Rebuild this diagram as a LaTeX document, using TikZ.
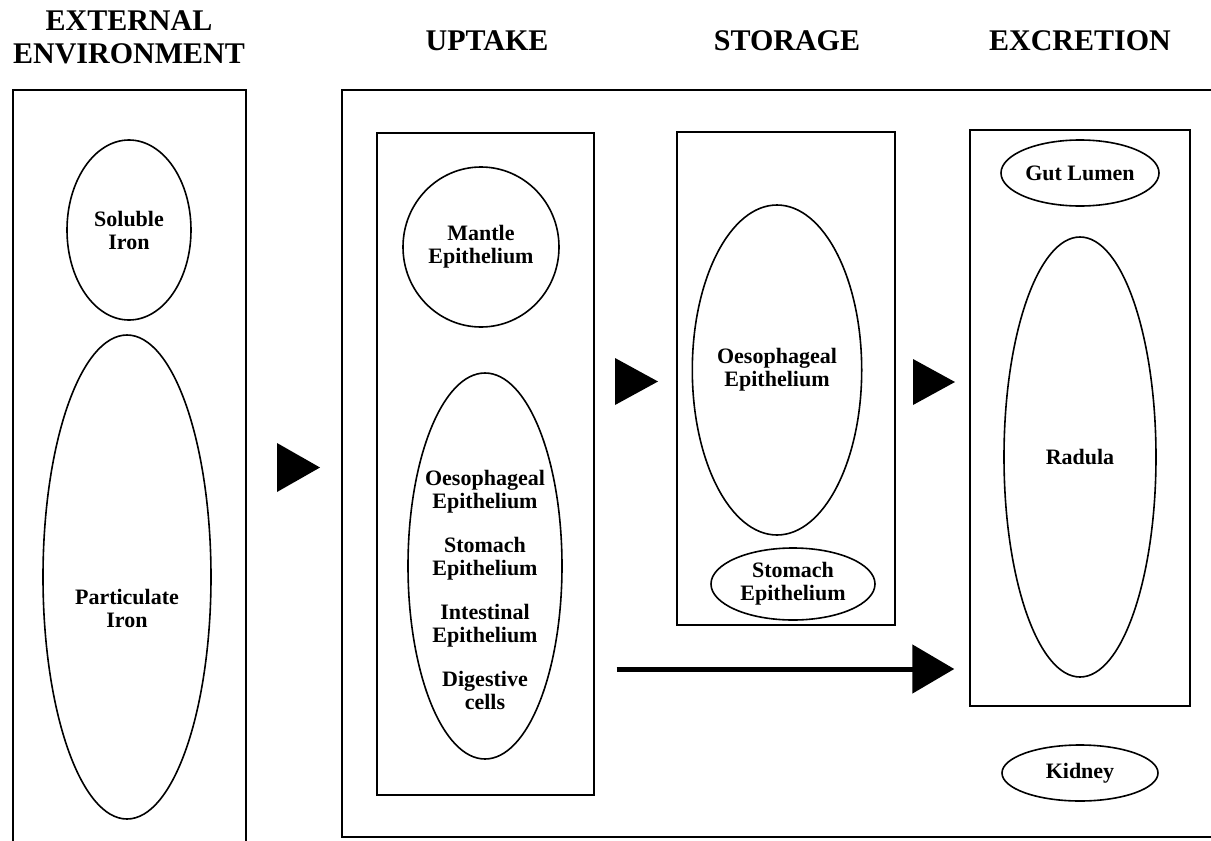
\documentclass[tikz,border=0pt]{standalone}
\usepackage{fontspec}
\setmainfont{Liberation Serif}
\usetikzlibrary{shapes.geometric,arrows.meta}
\begin{document}
\begin{tikzpicture}[x=1pt,y=-1pt,
  frame/.style={draw, rectangle, line width=1.4pt, inner sep=0pt},
  blob/.style={draw, ellipse, line width=1.6pt, inner sep=0pt, align=center,
    font=\bfseries\fontsize{22}{23}\selectfont},
  label/.style={align=center, inner sep=0pt, font=\bfseries\fontsize{22}{23}\selectfont},
  head/.style={anchor=base, inner sep=0pt, font=\bfseries\fontsize{30}{33}\selectfont},
  marker/.style={fill=black},
  flow/.style={line width=5pt, -{Triangle[length=42pt, width=48pt]}}]
\useasboundingbox (0,0) rectangle (1211,841);

% column headings
\node[head] (hext1) at (129,30) {EXTERNAL};
\node[head] (hext2) at (129,63) {ENVIRONMENT};
\node[head] (hup) at (487,50) {UPTAKE};
\node[head] (hsto) at (787,50) {STORAGE};
\node[head] (hexc) at (1080,50) {EXCRETION};

% outer frames
\draw[line width=1.4pt] (13,842) -- (13,90) -- (246,90) -- (246,842);
\draw[line width=1.4pt] (1212,90) -- (342,90) -- (342,837) -- (1212,837);

% compartment boxes
\node[frame, minimum width=217pt, minimum height=662pt] (upbox) at (485.5,464) {};
\node[frame, minimum width=218pt, minimum height=493pt] (stobox) at (786,378.5) {};
\node[frame, minimum width=220pt, minimum height=576pt] (excbox) at (1080,418) {};

% external environment
\node[blob, minimum width=124pt, minimum height=180pt] (soluble) at (129,230) {Soluble\\Iron};
\node[blob, minimum width=168pt, minimum height=484pt] (partic) at (127,577) {};
\node[label] (particlabel) at (127,608) {Particulate\\Iron};

% uptake
\node[blob, minimum width=156pt, minimum height=160pt] (mantle) at (481,247) {Mantle\\Epithelium};
\node[blob, minimum width=154pt, minimum height=386pt] (gut) at (485,566) {};
\node[label] (gutlabel) at (485,590) {Oesophageal\\Epithelium\\[21pt]Stomach\\Epithelium\\[21pt]Intestinal\\Epithelium\\[21pt]Digestive\\cells};

% storage
\node[blob, minimum width=136pt, minimum height=330pt] (oeso) at (777,370) {Oesophageal\\Epithelium};
\node[blob, minimum width=164pt, minimum height=72pt] (stomach) at (793,584) {Stomach\\Epithelium};

% excretion
\node[blob, minimum width=158pt, minimum height=66pt] (lumen) at (1080,173) {Gut Lumen};
\node[blob, minimum width=152pt, minimum height=440pt] (radula) at (1080,457) {Radula};
\node[blob, minimum width=156pt, minimum height=56pt] (kidney) at (1080,773) {Kidney};

% transfer markers
\fill[marker] (277,443) -- (320,467.5) -- (277,492) -- cycle;
\fill[marker] (615,358) -- (658,381.5) -- (615,405) -- cycle;
\fill[marker] (913,359) -- (955,382) -- (913,405) -- cycle;

% direct route from uptake to excretion
\coordinate (flowlevel) at (0,669);
\draw[flow, shorten <=22pt, shorten >=15pt] (upbox.east |- flowlevel) -- (excbox.west |- flowlevel);
\end{tikzpicture}
\end{document}
